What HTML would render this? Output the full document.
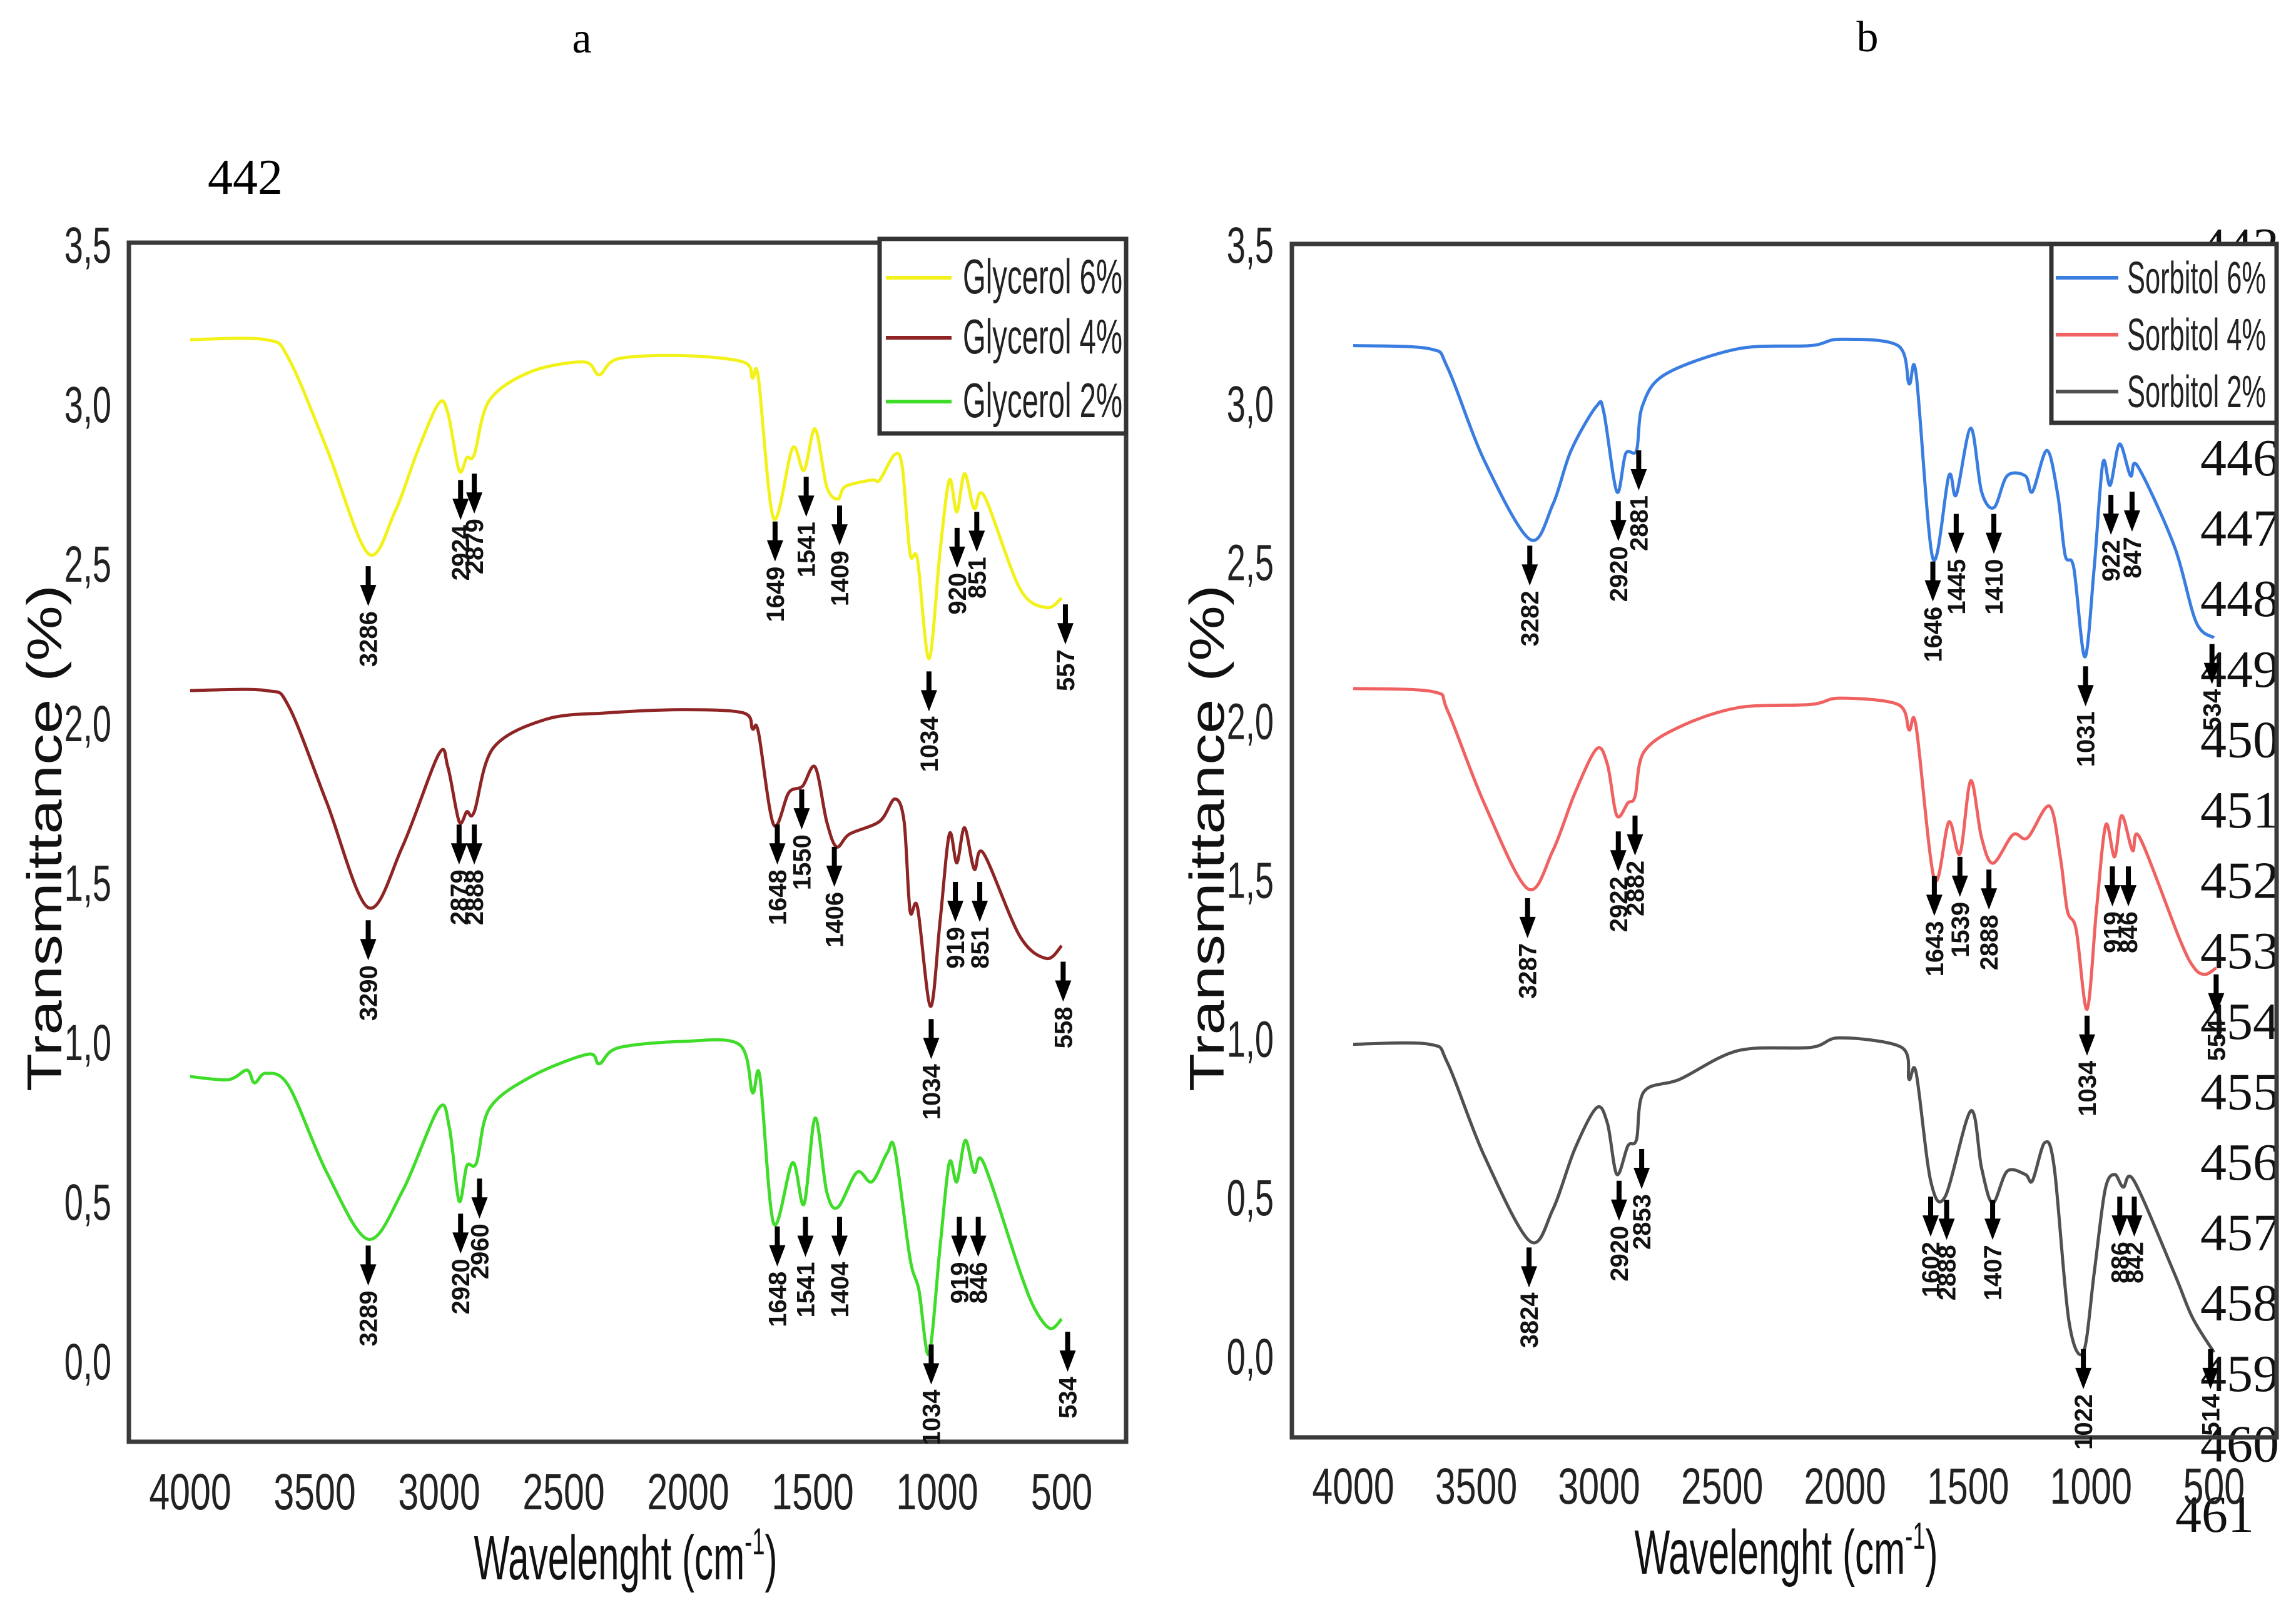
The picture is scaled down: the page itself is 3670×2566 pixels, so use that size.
<!DOCTYPE html>
<html><head><meta charset="utf-8"><style>
html,body{margin:0;padding:0;background:#fff;}
svg{display:block;}
</style></head><body>
<svg id="fig" width="3670" height="2566" viewBox="0 0 3670 2566" xmlns="http://www.w3.org/2000/svg">
<rect x="0" y="0" width="3670" height="2566" fill="#fff"/>
<text x="930" y="84" font-family="Liberation Serif, serif" font-size="70" text-anchor="middle">a</text>
<text x="2985" y="82" font-family="Liberation Serif, serif" font-size="70" text-anchor="middle">b</text>
<text x="392" y="310" font-family="Liberation Serif, serif" font-size="80" text-anchor="middle">442</text>
<g id="linenums"></g>
<g id="panelA"></g>
<g id="panelB"></g>
</svg>
<script>
// ---- data ----
const xTicks = [4000,3500,3000,2500,2000,1500,1000,500];
const yTicks = [0,0.5,1.0,1.5,2.0,2.5,3.0,3.5];
const yTickLabels = ["0,0","0,5","1,0","1,5","2,0","2,5","3,0","3,5"];
const lineNumbers = [443,444,445,446,447,448,449,450,451,452,453,454,455,456,457,458,459,460,461];

const gly6Wn = [4000,3696,3604,3452,3286,3178,3087,3002,2965,2920,2889,2859,2798,2630,2418,2357,2281,2022,1779,1742,1718,1657,1581,1535,1490,1444,1399,1368,1262,1231,1170,1140,1109,1079,1033,988,951,921,890,851,811,668,561,500];
const gly6T  = [3.20,3.20,3.14,2.86,2.53,2.66,2.85,3.00,2.97,2.79,2.83,2.84,3.01,3.10,3.13,3.09,3.14,3.15,3.13,3.08,3.08,2.64,2.86,2.79,2.92,2.74,2.70,2.74,2.76,2.76,2.84,2.80,2.53,2.51,2.20,2.54,2.76,2.66,2.78,2.67,2.71,2.42,2.36,2.39];
const gly4Wn = [4000,3696,3604,3452,3286,3148,3002,2965,2920,2889,2859,2783,2570,2326,2022,1779,1742,1718,1657,1596,1541,1490,1444,1404,1352,1231,1170,1133,1109,1079,1027,988,951,921,890,851,814,668,561,500];
const gly4T  = [2.10,2.10,2.05,1.75,1.42,1.61,1.90,1.86,1.69,1.72,1.72,1.92,2.01,2.03,2.04,2.03,1.98,1.97,1.68,1.78,1.80,1.86,1.69,1.61,1.65,1.69,1.76,1.69,1.41,1.42,1.11,1.38,1.65,1.56,1.67,1.54,1.59,1.33,1.26,1.30];
const gly2Wn = [4000,3848,3772,3742,3696,3604,3452,3286,3148,3002,2959,2920,2889,2850,2798,2630,2403,2357,2281,2022,1794,1742,1712,1657,1581,1535,1490,1444,1399,1322,1262,1201,1170,1109,1073,1033,988,951,921,887,851,814,668,607,546,500];
const gly2T  = [0.89,0.88,0.91,0.87,0.90,0.86,0.59,0.38,0.53,0.79,0.73,0.50,0.61,0.62,0.79,0.89,0.96,0.93,0.98,1.00,0.99,0.84,0.89,0.43,0.62,0.49,0.76,0.53,0.48,0.59,0.56,0.65,0.66,0.32,0.22,0.02,0.36,0.62,0.56,0.69,0.59,0.62,0.28,0.16,0.10,0.13];

const sor6Wn = [4000,3690,3616,3468,3282,3188,3114,3010,2981,2928,2892,2848,2824,2730,2434,2139,2021,1785,1740,1711,1643,1578,1548,1489,1445,1394,1341,1267,1238,1179,1135,1105,1070,1025,987,952,922,884,839,810,662,573,500];
const sor6T  = [3.18,3.17,3.11,2.82,2.57,2.68,2.85,2.99,2.97,2.72,2.84,2.85,2.99,3.09,3.17,3.18,3.20,3.18,3.06,3.09,2.51,2.77,2.71,2.92,2.72,2.67,2.77,2.77,2.72,2.85,2.71,2.52,2.48,2.20,2.48,2.81,2.74,2.87,2.77,2.80,2.55,2.31,2.26];
const sor4Wn = [4000,3675,3616,3468,3291,3188,3099,3010,2966,2928,2883,2854,2818,2671,2434,2139,2021,1785,1740,1711,1637,1578,1533,1489,1445,1398,1317,1258,1169,1125,1096,1060,1016,978,940,904,875,831,801,639,580,536,491];
const sor4T  = [2.10,2.09,2.03,1.74,1.47,1.59,1.77,1.91,1.86,1.70,1.74,1.76,1.90,1.98,2.04,2.05,2.07,2.05,1.97,1.98,1.50,1.68,1.58,1.81,1.63,1.55,1.64,1.63,1.73,1.57,1.40,1.34,1.09,1.40,1.67,1.57,1.70,1.59,1.63,1.31,1.22,1.20,1.22];
const sor2Wn = [4000,3690,3616,3468,3282,3188,3099,3010,2966,2928,2883,2848,2818,2671,2434,2139,2021,1770,1740,1711,1652,1593,1489,1445,1400,1341,1267,1238,1188,1149,1090,1031,987,943,904,869,825,662,588,500];
const sor2T  = [0.98,0.98,0.92,0.63,0.36,0.46,0.65,0.78,0.73,0.57,0.66,0.68,0.83,0.87,0.96,0.97,1.00,0.97,0.87,0.89,0.55,0.50,0.77,0.59,0.48,0.58,0.57,0.55,0.67,0.59,0.11,0.01,0.26,0.52,0.57,0.53,0.55,0.26,0.12,0.01];

// annotations (arrow wavenumber, transmittance at arrow top, label)
const annAWn = [3285,2914,2859,1651,1526,1392,920,841,1033,485, 3285,2920,2859,1642,1544,1413,927,829,1024,494, 3285,2914,2838,1642,1529,1392,911,835,1024,476];
const annAT  = [2.49,2.76,2.78,2.63,2.77,2.68,2.61,2.66,2.16,2.37, 1.38,1.68,1.68,1.68,1.79,1.61,1.50,1.50,1.07,1.25, 0.36,0.46,0.57,0.42,0.45,0.45,0.45,0.45,0.05,0.09];
const annALabel = ["3286","2924","2879","1649","1541","1409","920","851","1034","557", "3290","2879","2888","1648","1550","1406","919","851","1034","558", "3289","2920","2960","1648","1541","1404","919","846","1034","534"];
const annBWn = [3282,2922,2839,1643,1548,1395,919,833,1022,508, 3291,2922,2854,1637,1533,1415,913,848,1016,491, 3285,2919,2827,1652,1587,1400,883,824,1031,514];
const annBT  = [2.55,2.69,2.85,2.50,2.65,2.65,2.71,2.72,2.17,2.24, 1.44,1.65,1.70,1.51,1.57,1.53,1.54,1.54,1.07,1.20, 0.34,0.55,0.65,0.50,0.49,0.49,0.50,0.50,0.02,0.02];
const annBLabel = ["3282","2920","2881","1646","1445","1410","922","847","1031","534", "3287","2922","2882","1643","1539","2888","919","846","1034","554", "3824","2920","2853","1602","2888","1407","886","842","1022","514"];

const legendA = ["Glycerol 6%","Glycerol 4%","Glycerol 2%"];
const legendB = ["Sorbitol 6%","Sorbitol 4%","Sorbitol 2%"];

const NS = "http://www.w3.org/2000/svg";
function mk(tag, attrs, parent){
  const e = document.createElementNS(NS, tag);
  for (const k in attrs) e.setAttribute(k, attrs[k]);
  parent.appendChild(e);
  return e;
}
function smoothPath(pts){
  let d = 'M' + pts[0][0].toFixed(1) + ',' + pts[0][1].toFixed(1);
  for (let i = 0; i < pts.length - 1; i++){
    const p0 = pts[Math.max(0,i-1)], p1 = pts[i], p2 = pts[i+1], p3 = pts[Math.min(pts.length-1,i+2)];
    const k = 0.16;
    const c1x = p1[0] + (p2[0]-p0[0])*k, c1y = p1[1] + (p2[1]-p0[1])*k;
    const c2x = p2[0] - (p3[0]-p1[0])*k, c2y = p2[1] - (p3[1]-p1[1])*k;
    d += ` C${c1x.toFixed(1)},${c1y.toFixed(1)} ${c2x.toFixed(1)},${c2y.toFixed(1)} ${p2[0].toFixed(1)},${p2[1].toFixed(1)}`;
  }
  return d;
}

const ln = document.getElementById('linenums');
lineNumbers.forEach((n,i)=>{
  const t = mk('text',{x: n===461 ? 3540 : 3580, y: 730 + (n-446)*112.6 + 30, 'font-family':'Liberation Serif, serif','font-size':84,'text-anchor':'middle',fill:'#111'}, ln);
  
  
  t.textContent = n;
});

function panel(g, cfg){
  const X = wn => cfg.x4000 + (4000 - wn) * cfg.xs;
  const Y = v => cfg.y0 - v * cfg.ys;
  const frame = mk('rect',{x:cfg.L, y:cfg.T, width:cfg.R-cfg.L, height:cfg.B-cfg.T, fill:'none', stroke:'#3a3a3a','stroke-width':7}, g);
  
  
  yTicks.forEach((v,i)=>{
    const t = mk('text',{x:cfg.yLabX, y:Y(v)+30, 'font-family':'Liberation Sans Narrow, Liberation Sans, sans-serif','font-size':82,'text-anchor':'end',fill:'#222', transform:`translate(${cfg.yLabX},0) scale(0.66,1) translate(${-cfg.yLabX},0)`}, g);
    
    
    t.textContent = yTickLabels[i];
  });
  xTicks.forEach(w=>{
    const t = mk('text',{x:X(w), y:cfg.xLabY+30, 'font-family':'Liberation Sans Narrow, Liberation Sans, sans-serif','font-size':82,'text-anchor':'middle',fill:'#222', transform:`translate(${X(w)},0) scale(0.72,1) translate(${-X(w)},0)`}, g);
    
    
    t.textContent = w;
  });
  const xt = mk('text',{x:cfg.xTitleX, y:cfg.xTitleY, 'font-family':'Liberation Sans Narrow, Liberation Sans, sans-serif','font-size':100,'text-anchor':'middle',fill:'#111', textLength:485, lengthAdjust:'spacingAndGlyphs'}, g);
  
  
  xt.innerHTML = 'Wavelenght (cm<tspan font-size="60" dy="-40">-1</tspan><tspan dy="40">)</tspan>';
  const yt = mk('text',{x:0, y:0, 'font-family':'Liberation Sans, sans-serif','font-size':78,'text-anchor':'middle',fill:'#111', textLength:810, lengthAdjust:'spacingAndGlyphs', transform:`translate(${cfg.yTitleX},1340) rotate(-90)`}, g);
  
  
  yt.textContent = 'Transmittance (%)';
  cfg.series.forEach((s,i)=>{
    const pts = s.wn.map((w,j)=>[X(w), Y(s.t[j])]);
    const p = mk('path',{d:smoothPath(pts), fill:'none', stroke:s.color,'stroke-width':5,'stroke-linejoin':'round'}, g);
    
    
  });
  cfg.annWn.forEach((w,i)=>{
    const x = X(w), y = Y(cfg.annT[i]);
    const a = mk('g',{}, g);
    
    
    mk('line',{x1:x,y1:y,x2:x,y2:y+40,stroke:'#000','stroke-width':8}, a);
    mk('polygon',{points:`${x-13},${y+30} ${x+13},${y+30} ${x},${y+64}`, fill:'#000'}, a);
    const t = mk('text',{x:0,y:0,'font-family':'Liberation Sans, sans-serif','font-size':40,'font-weight':'bold','text-anchor':'end',fill:'#111', transform:`translate(${x+14},${y+72}) rotate(-90)`}, a);
    t.textContent = cfg.annLabel[i];
  });
  const lg = mk('g',{}, g);
  
  
  mk('rect',{x:cfg.leg.x, y:cfg.leg.y, width:cfg.leg.w, height:cfg.leg.h, fill:'#fff', stroke:'#333','stroke-width':7}, lg);
  cfg.legNames.forEach((n,i)=>{
    const e = mk('g',{}, lg);
    
    
    const yy = cfg.leg.rows[i];
    mk('line',{x1:cfg.leg.lx1,y1:yy,x2:cfg.leg.lx2,y2:yy,stroke:cfg.series[i].color,'stroke-width':6}, e);
    const t = mk('text',{x:cfg.leg.tx, y:yy+25, 'font-family':'Liberation Sans Narrow, Liberation Sans, sans-serif','font-size':cfg.leg.fs,fill:'#222', textLength:cfg.leg.tl, lengthAdjust:'spacingAndGlyphs'}, e);
    t.textContent = n;
  });
}

panel(document.getElementById('panelA'), {
  L:206, R:1800, T:388, B:2305, x4000:304, xs:0.398, y0:2175, ys:510,
  yLabX:178, xLabY:2383, xTitleX:1000, xTitleY:2525, yTitleX:98,
  series:[{name:'glycerol-6',wn:gly6Wn,t:gly6T,color:'#f2f21a'},{name:'glycerol-4',wn:gly4Wn,t:gly4T,color:'#8e2424'},{name:'glycerol-2',wn:gly2Wn,t:gly2T,color:'#3fdc2a'}],
  annWn:annAWn, annT:annAT, annLabel:annALabel,
  legNames:legendA,
  leg:{x:1406,y:382,w:394,h:311,rows:[444,540,642],lx1:1416,lx2:1521,tx:1539,fs:78,tl:255}
});
panel(document.getElementById('panelB'), {
  L:2065, R:3639, T:390, B:2298, x4000:2163, xs:0.3931, y0:2167, ys:507.7,
  yLabX:2036, xLabY:2374, xTitleX:2855, xTitleY:2516, yTitleX:1956,
  series:[{name:'sorbitol-6',wn:sor6Wn,t:sor6T,color:'#3a7de0'},{name:'sorbitol-4',wn:sor4Wn,t:sor4T,color:'#f06262'},{name:'sorbitol-2',wn:sor2Wn,t:sor2T,color:'#505050'}],
  annWn:annBWn, annT:annBT, annLabel:annBLabel,
  legNames:legendB,
  leg:{x:3279,y:390,w:360,h:286,rows:[444,535,626],lx1:3286,lx2:3386,tx:3400,fs:72,tl:222}
});
</script>
</body></html>
